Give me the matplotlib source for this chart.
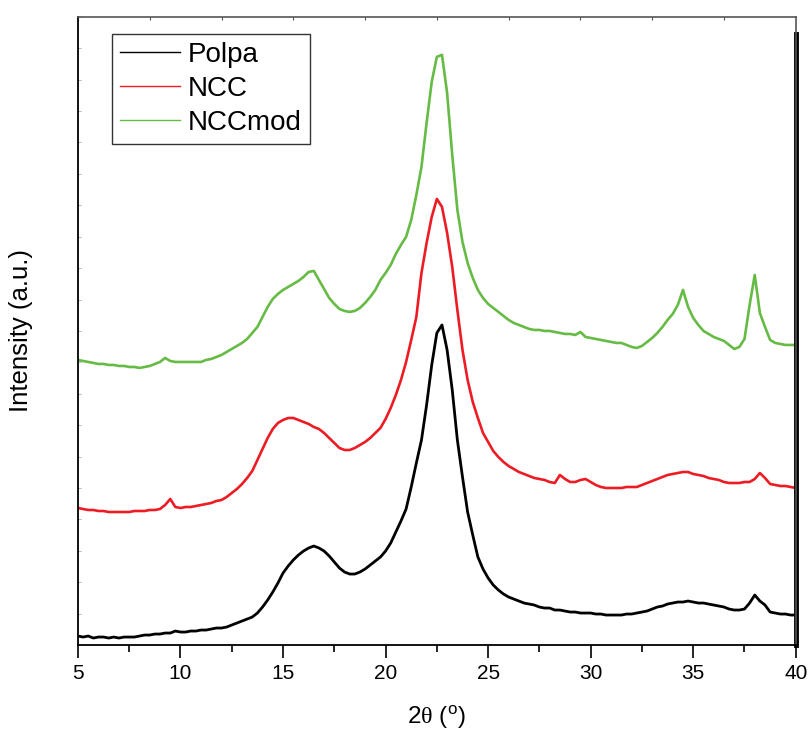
import numpy as np
import matplotlib
matplotlib.use('Agg')
import matplotlib.pyplot as plt
from matplotlib.ticker import MultipleLocator

plt.rcParams['font.family'] = ['Liberation Sans', 'DejaVu Sans']
plt.rcParams['mathtext.fontset'] = 'custom'
plt.rcParams['mathtext.rm'] = 'Liberation Serif'
plt.rcParams['mathtext.sf'] = 'Liberation Sans'

two_theta = np.arange(5, 40.001, 0.25)

polpa = [
    9, 8, 9, 7, 8, 8, 7, 8, 7, 8, 8, 8, 9, 10, 10, 11, 11, 12, 12, 14,
    13, 13, 14, 14, 15, 15, 16, 17, 17, 18, 20, 22, 24, 26, 28, 32, 38, 45, 53, 62,
    72, 79, 85, 90, 94, 97, 99, 97, 94, 89, 83, 77, 73, 71, 71, 73, 76, 80, 84, 88,
    94, 102, 113, 124, 136, 158, 182, 205, 240, 280, 312, 320, 295, 255, 205, 168, 133, 110, 88, 76,
    67, 60, 55, 51, 48, 46, 44, 42, 41, 40, 38, 37, 37, 35, 35, 34, 33, 33, 32, 32,
    32, 31, 31, 30, 30, 30, 30, 31, 31, 32, 33, 34, 36, 38, 39, 41, 42, 43, 43, 44,
    43, 42, 42, 41, 40, 39, 38, 36, 35, 35, 36, 42, 50, 44, 40, 33, 32, 31, 31, 30,
    30,
]

ncc = [
    137, 136, 135, 135, 134, 134, 133, 133, 133, 133, 133, 134, 134, 134, 135, 135, 136, 140, 146, 138,
    137, 138, 138, 139, 140, 141, 142, 144, 145, 148, 152, 156, 161, 167, 174, 185, 196, 207, 216, 222,
    225, 227, 227, 225, 223, 221, 218, 216, 212, 207, 202, 197, 195, 195, 197, 200, 203, 207, 212, 217,
    226, 237, 250, 265, 283, 305, 328, 372, 402, 428, 446, 438, 412, 378, 335, 295, 265, 243, 227, 212,
    203, 194, 188, 183, 179, 176, 173, 171, 169, 167, 166, 165, 163, 162, 170, 166, 163, 163, 165, 166,
    163, 160, 158, 157, 157, 157, 157, 158, 158, 158, 160, 162, 164, 166, 168, 170, 171, 172, 173, 173,
    171, 170, 169, 167, 166, 165, 163, 162, 162, 162, 163, 163, 166, 172, 167, 161, 160, 159, 159, 158,
    157,
]

ncc_mod = [
    285, 284, 283, 282, 281, 281, 280, 280, 279, 279, 278, 278, 277, 278, 279, 281, 283, 287, 284, 283,
    283, 283, 283, 283, 283, 285, 286, 288, 290, 293, 296, 299, 302, 306, 312, 318, 328, 338, 346, 351,
    355, 358, 361, 364, 368, 373, 374, 365, 356, 347, 341, 336, 334, 333, 334, 337, 342, 348, 355, 365,
    372, 380, 391, 400, 408, 425, 450, 478, 522, 563, 588, 590, 552, 490, 435, 403, 382, 367, 355, 347,
    341, 337, 333, 329, 325, 322, 320, 318, 316, 315, 315, 314, 314, 313, 312, 311, 311, 310, 313, 308,
    307, 306, 305, 304, 303, 302, 302, 300, 298, 297, 299, 303, 307, 312, 318, 325, 331, 340, 355, 338,
    327, 320, 314, 311, 308, 306, 304, 300, 296, 298, 306, 340, 370, 332, 318, 305, 302, 301, 300, 300,
    300,
]

series = [
    ('Polpa', polpa, '#000000', 2.0),
    ('NCC', ncc, '#ed1c24', 1.9),
    ('NCCmod', ncc_mod, '#66bb44', 1.9),
]

fig = plt.figure(figsize=(8.12, 7.33), dpi=100)
ax = fig.add_axes([0.096, 0.120, 0.884, 0.857])

for name, vals, col, lw in series:
    ax.plot(two_theta, vals, color=col, lw=lw, label=name)

ax.set_xlim(5, 40)
ax.set_ylim(0, 628)

# ticks
ax.xaxis.set_major_locator(MultipleLocator(5))
ax.xaxis.set_minor_locator(MultipleLocator(2.5))
ax.tick_params(axis='x', which='major', direction='out', length=9, width=1.2,
               labelsize=15, pad=5, top=False)
ax.tick_params(axis='x', which='minor', direction='out', length=5, width=1.2, top=False)
ax.yaxis.set_major_locator(MultipleLocator(31.4))
ax.tick_params(axis='y', which='both', direction='in', length=2.5, width=0.5,
               color='#999999', labelleft=False)

# thin top ticks like the original
sec = ax.secondary_xaxis('top')
sec.set_xticks(np.arange(8.5, 40, 3.5))
sec.tick_params(direction='in', length=2, width=0.8, color='#555555', labeltop=False)
sec.spines['top'].set_visible(False)

for s in ['left', 'bottom']:
    ax.spines[s].set_linewidth(1.3)
    ax.spines[s].set_color('black')
ax.spines['top'].set_color('#555555')
ax.spines['top'].set_linewidth(1.2)
ax.spines['right'].set_color('#555555')
ax.spines['right'].set_linewidth(1.2)
ax.axvline(40, ymin=0, ymax=0.973, color='black', lw=3.5, clip_on=False)

ax.set_xlabel('2' + r'$\mathrm{\theta}$' + ' (' + r'$^{\mathsf{o}}$' + ')', fontsize=17.5)
ax.xaxis.set_label_coords(0.5, -0.093)
ax.set_ylabel('Intensity (a.u.)', fontsize=18.5)
ax.yaxis.set_label_coords(-0.062, 0.5)

leg = ax.legend(loc='upper left', bbox_to_anchor=(0.047, 0.973), fontsize=20,
                frameon=True, fancybox=False, handlelength=2.15, handletextpad=0.3,
                labelspacing=0.28, borderpad=0.3, borderaxespad=0)
leg.get_frame().set_edgecolor('black')
leg.get_frame().set_linewidth(1.0)
for line in leg.get_lines():
    line.set_linewidth(1.0)

plt.savefig('out.png', dpi=100)
plt.close()
